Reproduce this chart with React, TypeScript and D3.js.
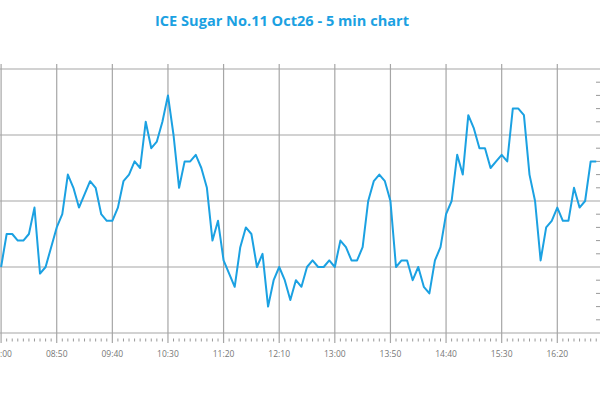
import React from "react";
import * as d3 from "d3";

const title = "ICE Sugar No.11 Oct26 - 5 min chart";
const startTime = "08:00";
const stepMinutes = 5;
const prices: number[] = [
  16.60, 16.65, 16.65, 16.64, 16.64, 16.65, 16.69, 16.59, 16.60, 16.63,
  16.66, 16.68, 16.74, 16.72, 16.69, 16.71, 16.73, 16.72, 16.68, 16.67,
  16.67, 16.69, 16.73, 16.74, 16.76, 16.75, 16.82, 16.78, 16.79, 16.82,
  16.86, 16.80, 16.72, 16.76, 16.76, 16.77, 16.75, 16.72, 16.64, 16.67,
  16.61, 16.59, 16.57, 16.63, 16.66, 16.65, 16.60, 16.62, 16.54, 16.58,
  16.60, 16.58, 16.55, 16.58, 16.57, 16.60, 16.61, 16.60, 16.60, 16.61,
  16.60, 16.64, 16.63, 16.61, 16.61, 16.63, 16.70, 16.73, 16.74, 16.73,
  16.70, 16.60, 16.61, 16.61, 16.58, 16.60, 16.57, 16.56, 16.61, 16.63,
  16.68, 16.70, 16.77, 16.74, 16.83, 16.81, 16.78, 16.78, 16.75, 16.76,
  16.77, 16.76, 16.84, 16.84, 16.83, 16.74, 16.70, 16.61, 16.66, 16.67,
  16.69, 16.67, 16.67, 16.72, 16.69, 16.70, 16.76, 16.76,
];
const xTickLabels = ["08:00", "08:50", "09:40", "10:30", "11:20", "12:10", "13:00", "13:50", "14:40", "15:30", "16:20"];
const yMajorTicks = [16.5, 16.6, 16.7, 16.8, 16.9];
const yDomain: [number, number] = [16.5, 16.9];
const xDomainLabels: [string, string] = ["08:00", "17:10"];

const parse = d3.timeParse("%H:%M");

export default function App() {
  const W = 600, H = 400;
  const top = 69, bottom = 333;
  const blue = "#1ba1e2";
  const grid = "#a6a6a6";

  const t0 = parse(startTime)!;
  const data = prices.map((p, i) => ({ t: d3.timeMinute.offset(t0, i * stepMinutes), p }));

  const xd0 = parse(xDomainLabels[0])!;
  const xd1 = parse(xDomainLabels[1])!;
  const pxPerMin = 1.1124;
  const x = d3.scaleTime().domain([xd0, xd1]).range([1.1, 1.1 + pxPerMin * 550]);
  const y = d3.scaleLinear().domain(yDomain).range([bottom, top]);

  const line = d3.line<{ t: Date; p: number }>().x(d => x(d.t)).y(d => y(d.p));

  const majorTimes = xTickLabels.map(l => parse(l)!);
  const minorTimes = d3.timeMinute.every(5)!.range(xd0, xd1).filter(t => (t.getHours() * 60 + t.getMinutes() - 480) % 50 !== 0);
  const yMinor = d3.range(0, 21).map(k => yDomain[0] + k * 0.02);

  return (
    <svg width={W} height={H} style={{ position: "absolute", left: 0, top: 0, background: "#fff" }}>
      <text x={282} y={26} textAnchor="middle" fill={blue} fontFamily="'Open Sans', sans-serif" fontWeight="bold" fontSize={13.5} textLength={254} lengthAdjust="spacingAndGlyphs">{title}</text>
      {yMajorTicks.map(v => (
        <line key={"h" + v} x1={0} x2={W} y1={y(v)} y2={y(v)} stroke={grid} strokeWidth={1.2} />
      ))}
      {majorTimes.map((t, i) => (
        <line key={"v" + i} x1={x(t)} x2={x(t)} y1={top - 5} y2={bottom + 10} stroke={grid} strokeWidth={1.2} />
      ))}
      {minorTimes.map((t, i) => (
        <line key={"m" + i} x1={x(t)} x2={x(t)} y1={bottom + 5.5} y2={bottom + 8.5} stroke="#999" strokeWidth={1} />
      ))}
      {yMinor.filter((_, k) => k % 5 !== 0).map((v, i) => (
        <line key={"ym" + i} x1={596} x2={601} y1={y(v)} y2={y(v)} stroke="#999" strokeWidth={1} />
      ))}
      {majorTimes.map((t, i) => (
        <text key={"l" + i} x={x(t)} y={357} textAnchor="middle" fill="#777" fontFamily="'Open Sans', sans-serif" fontSize={8.5}>{xTickLabels[i]}</text>
      ))}
      <path d={line(data) || ""} fill="none" stroke={blue} strokeWidth={2} strokeLinejoin="round" />
    </svg>
  );
}
